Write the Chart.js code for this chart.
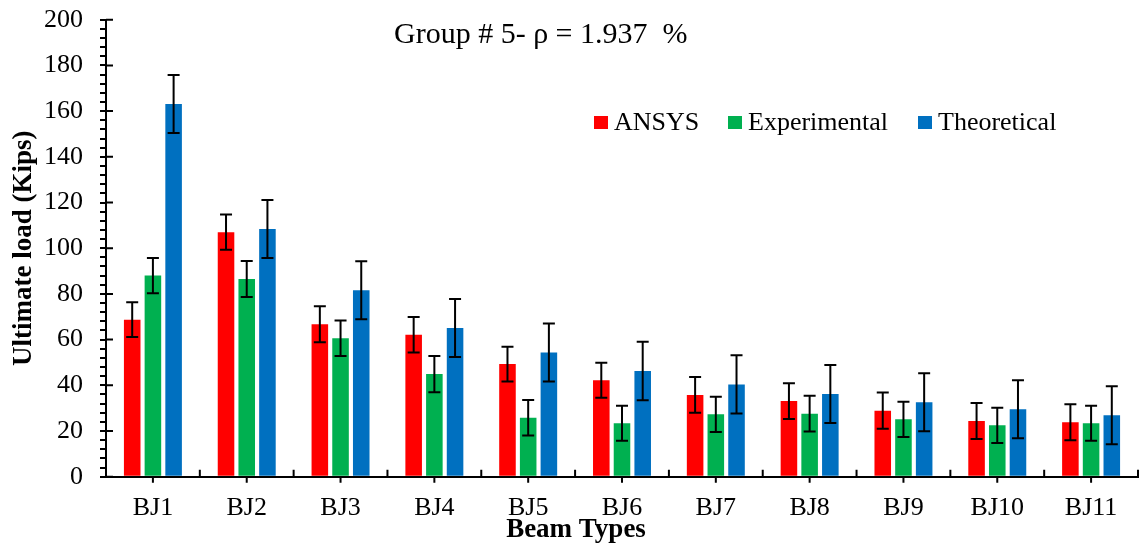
<!DOCTYPE html>
<html>
<head>
<meta charset="utf-8">
<script src="https://cdn.jsdelivr.net/npm/chart.js@4.4.1/dist/chart.umd.min.js"></script>
<style>
  html, body { margin: 0; padding: 0; background: #fff; }
  #c { display: block; }
</style>
</head>
<body>
<canvas id="c" width="1141" height="547"></canvas>
<script>
// beam types and ultimate loads (kips)
const beams = ['BJ1', 'BJ2', 'BJ3', 'BJ4', 'BJ5', 'BJ6', 'BJ7', 'BJ8', 'BJ9', 'BJ10', 'BJ11'];
const ansys = [68.7, 107.0, 66.7, 62.1, 49.3, 42.2, 35.8, 33.1, 28.9, 24.4, 23.8];
const experimental = [88.0, 86.5, 60.6, 44.9, 25.8, 23.4, 27.3, 27.6, 25.1, 22.5, 23.4];
const theoretical = [163.1, 108.4, 81.6, 65.1, 54.4, 46.3, 40.4, 36.2, 32.6, 29.5, 26.9];

// +/- error on each bar
const ansysErr = [7.6, 7.7, 7.9, 7.8, 7.6, 7.7, 7.8, 7.8, 7.9, 7.9, 7.9];
const experimentalErr = [7.7, 7.9, 7.8, 7.9, 7.8, 7.7, 7.7, 7.8, 7.7, 7.7, 7.7];
const theoreticalErr = [12.7, 12.7, 12.7, 12.7, 12.7, 12.8, 12.7, 12.7, 12.7, 12.7, 12.7];

const yLabels = [0, 20, 40, 60, 80, 100, 120, 140, 160, 180, 200];

const SERIF = '"Liberation Serif", "Times New Roman", serif';
Chart.defaults.font.family = SERIF;
Chart.defaults.color = '#000';

const errorBars = {
  id: 'errorBars',
  afterDatasetsDraw(chart) {
    const { ctx, scales: { y } } = chart;
    ctx.save();
    ctx.strokeStyle = '#000';
    ctx.lineWidth = 2;
    chart.data.datasets.forEach((ds, i) => {
      const meta = chart.getDatasetMeta(i);
      meta.data.forEach((bar, j) => {
        const v = ds.data[j], e = ds.errors[j];
        const top = y.getPixelForValue(v + e);
        const bot = y.getPixelForValue(v - e);
        ctx.beginPath();
        ctx.moveTo(bar.x, top); ctx.lineTo(bar.x, bot);
        ctx.moveTo(bar.x - 6, top); ctx.lineTo(bar.x + 6, top);
        ctx.moveTo(bar.x - 6, bot); ctx.lineTo(bar.x + 6, bot);
        ctx.stroke();
      });
    });
    ctx.restore();
  }
};

// extra tick marks: major y ticks cross the axis, x ticks between and under categories
const axisMarks = {
  id: 'axisMarks',
  afterDraw(chart) {
    const { ctx, chartArea, scales: { x, y } } = chart;
    ctx.save();
    ctx.strokeStyle = '#000';
    ctx.lineWidth = 2;
    ctx.beginPath();
    yLabels.forEach(v => {
      const py = y.getPixelForValue(v);
      ctx.moveTo(chartArea.left, py); ctx.lineTo(chartArea.left + 7, py);
    });
    beams.forEach((b, i) => {
      const px = x.getPixelForValue(i);
      ctx.moveTo(px, chartArea.bottom); ctx.lineTo(px, chartArea.bottom + 6);
      const edge = i < beams.length - 1 ? (px + x.getPixelForValue(i + 1)) / 2 : chartArea.right;
      ctx.moveTo(edge, chartArea.bottom); ctx.lineTo(edge, chartArea.bottom - 7);
    });
    ctx.stroke();
    ctx.restore();
  }
};

// heading, x axis title and legend keys
const overlay = {
  id: 'overlay',
  afterDraw(chart) {
    const { ctx } = chart;
    ctx.save();
    ctx.fillStyle = '#000';
    ctx.textBaseline = 'alphabetic';
    ctx.textAlign = 'left';
    ctx.font = '30px ' + SERIF;
    ctx.fillText('Group # 5- \u03c1 = 1.937  %', 394, 43);

    const keyX = [594, 728, 918];
    ctx.font = '26px ' + SERIF;
    chart.data.datasets.forEach((ds, i) => {
      ctx.fillStyle = ds.backgroundColor;
      ctx.fillRect(keyX[i], 116, 14, 13);
      ctx.fillStyle = '#000';
      ctx.fillText(ds.label, keyX[i] + 20, 130);
    });

    ctx.textAlign = 'center';
    ctx.font = 'bold 27px ' + SERIF;
    ctx.fillText('Beam Types', 576, 537);
    ctx.restore();
  }
};

new Chart(document.getElementById('c'), {
  type: 'bar',
  data: {
    labels: beams,
    datasets: [
      { label: 'ANSYS', data: ansys, errors: ansysErr, backgroundColor: '#FF0000' },
      { label: 'Experimental', data: experimental, errors: experimentalErr, backgroundColor: '#00B050' },
      { label: 'Theoretical', data: theoretical, errors: theoreticalErr, backgroundColor: '#0070C0' }
    ]
  },
  options: {
    responsive: false,
    animation: false,
    devicePixelRatio: 1,
    categoryPercentage: 0.662,
    barPercentage: 0.8,
    layout: { padding: { top: 19.7, right: 3, bottom: 0, left: 0 } },
    plugins: {
      legend: { display: false },
      tooltip: { enabled: false }
    },
    scales: {
      x: {
        grid: { display: false, drawTicks: false },
        border: { color: '#000', width: 2 },
        ticks: { font: { size: 26 }, padding: 16, maxRotation: 0, autoSkip: false },
        afterFit(scale) { scale.height = 70.3; }
      },
      y: {
        min: 0,
        max: 200,
        grid: { drawOnChartArea: false, drawTicks: true, tickLength: 6, color: '#000', lineWidth: 2 },
        border: { color: '#000', width: 2 },
        ticks: {
          stepSize: 4,
          padding: 17,
          autoSkip: false,
          font: { size: 26 },
          callback: v => yLabels.includes(v) ? v : ''
        },
        title: { display: true, text: 'Ultimate load (Kips)', font: { size: 27, weight: 'bold' }, padding: { top: 8, bottom: 0 } },
        afterFit(scale) {
          scale.width = 106;
          scale.paddingTop = 0;
        }
      }
    }
  },
  plugins: [errorBars, axisMarks, overlay]
});
</script>
</body>
</html>
